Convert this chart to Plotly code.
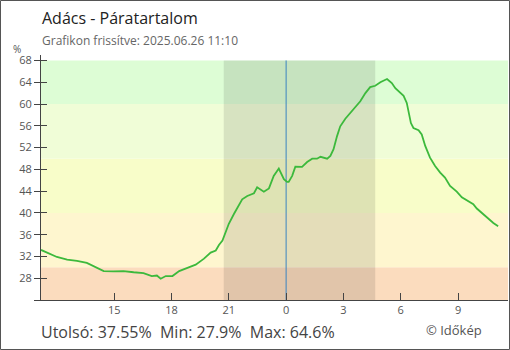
import plotly.graph_objects as go

# Relative humidity readings (time, %)
times = [
    "2025-06-25 11:10", "2025-06-25 11:29", "2025-06-25 12:00", "2025-06-25 12:32",
    "2025-06-25 13:03", "2025-06-25 13:34", "2025-06-25 13:55", "2025-06-25 14:11",
    "2025-06-25 14:27", "2025-06-25 14:58", "2025-06-25 15:29", "2025-06-25 16:01",
    "2025-06-25 16:32", "2025-06-25 16:58", "2025-06-25 17:14", "2025-06-25 17:26",
    "2025-06-25 17:42", "2025-06-25 18:03", "2025-06-25 18:24", "2025-06-25 18:50",
    "2025-06-25 19:16", "2025-06-25 19:42", "2025-06-25 20:03", "2025-06-25 20:19",
    "2025-06-25 20:29", "2025-06-25 20:40", "2025-06-25 20:50", "2025-06-25 21:00",
    "2025-06-25 21:16", "2025-06-25 21:32", "2025-06-25 21:42", "2025-06-25 21:58",
    "2025-06-25 22:19", "2025-06-25 22:29", "2025-06-25 22:50", "2025-06-25 23:06",
    "2025-06-25 23:21", "2025-06-25 23:37", "2025-06-25 23:53", "2025-06-26 00:03",
    "2025-06-26 00:08", "2025-06-26 00:19", "2025-06-26 00:29", "2025-06-26 00:50",
    "2025-06-26 01:06", "2025-06-26 01:22", "2025-06-26 01:37", "2025-06-26 01:48",
    "2025-06-26 02:09", "2025-06-26 02:19", "2025-06-26 02:29", "2025-06-26 02:40",
    "2025-06-26 02:50", "2025-06-26 03:06", "2025-06-26 03:22", "2025-06-26 03:37",
    "2025-06-26 03:53", "2025-06-26 04:09", "2025-06-26 04:24", "2025-06-26 04:40",
    "2025-06-26 04:56", "2025-06-26 05:17", "2025-06-26 05:32", "2025-06-26 05:43",
    "2025-06-26 05:53", "2025-06-26 06:09", "2025-06-26 06:19", "2025-06-26 06:24",
    "2025-06-26 06:32", "2025-06-26 06:40", "2025-06-26 06:56", "2025-06-26 07:06",
    "2025-06-26 07:17", "2025-06-26 07:32", "2025-06-26 07:48", "2025-06-26 08:04",
    "2025-06-26 08:19", "2025-06-26 08:35", "2025-06-26 08:56", "2025-06-26 09:12",
    "2025-06-26 09:32", "2025-06-26 09:48", "2025-06-26 09:59", "2025-06-26 10:14",
    "2025-06-26 10:35", "2025-06-26 10:51", "2025-06-26 11:06",
]
humidity = [
    33.2, 32.7, 31.9, 31.4,
    31.2, 30.8, 30.25, 29.75,
    29.3, 29.25, 29.3, 29.1,
    28.95, 28.4, 28.5, 27.9,
    28.4, 28.4, 29.3, 29.9,
    30.5, 31.6, 32.7, 33.1,
    34.1, 34.9, 36.45, 38.0,
    39.8, 41.6, 42.5, 43.1,
    43.6, 44.7, 43.9, 44.5,
    46.8, 48.15, 46.2, 45.7,
    45.7, 46.8, 48.5, 48.45,
    49.35, 49.95, 49.95, 50.3,
    49.95, 50.45, 51.7, 54.1,
    55.9, 57.3, 58.4, 59.6,
    60.5, 62.0, 63.1, 63.35,
    64.0, 64.6, 63.85, 62.9,
    62.3, 61.5, 60.2, 58.65,
    56.5, 55.6, 55.2, 54.4,
    52.3, 50.15, 48.6, 47.4,
    46.5, 44.95, 43.9, 42.85,
    42.1, 41.6, 40.8, 40.0,
    38.9, 38.15, 37.55,
]

# Humidity zones (lower, upper) and their fills
zone_edges = [24, 30, 40, 50, 60, 68]
zone_colors = ["#fbdcbe", "#fef6cf", "#f8fdc9", "#f0fdd7", "#ddfdd5"]

# Night interval and midnight marker
night_start, night_end = "2025-06-25 20:44", "2025-06-26 04:40"
midnight = "2025-06-26 00:00"

x_range = ["2025-06-25 11:10", "2025-06-26 11:37"]
x_ticks = ["2025-06-25 15:00", "2025-06-25 18:00", "2025-06-25 21:00",
           "2025-06-26 00:00", "2025-06-26 03:00", "2025-06-26 06:00",
           "2025-06-26 09:00"]
x_labels = ["15", "18", "21", "0", "3", "6", "9"]
y_range = [24, 69]
y_ticks = [24, 28, 32, 36, 40, 44, 48, 52, 56, 60, 64, 68]
y_labels = ["" if v == 24 else str(v) for v in y_ticks]

title = "Adács - Páratartalom"
subtitle = "Grafikon frissítve: 2025.06.26 11:10"
credit = "© Időkép"

W, H = 510, 350
ML, MR, MT, MB = 41, 2, 55, 50
PW, PH = W - ML - MR, H - MT - MB


def px(x, y):
    """Figure pixel position -> paper coordinates."""
    return (x - ML) / PW, (H - MB - y) / PH


font = "Open Sans, Noto Sans, DejaVu Sans, sans-serif"
axis_col = "#444444"

fig = go.Figure()
fig.add_trace(go.Scatter(
    x=times, y=humidity, mode="lines",
    line=dict(color="#3cb93c", width=1.8),
    hoverinfo="skip", showlegend=False,
))
# Overlay axis that only supplies the inward half of the y ticks
fig.add_trace(go.Scatter(x=[times[0]], y=[humidity[0]], yaxis="y2",
                         mode="markers", marker=dict(opacity=0),
                         hoverinfo="skip", showlegend=False))

shapes = []
for lo, hi, col in zip(zone_edges[:-1], zone_edges[1:], zone_colors):
    shapes.append(dict(type="rect", xref="paper", yref="y", x0=0, x1=1,
                       y0=lo, y1=hi, fillcolor=col, line_width=0, layer="below"))
shapes.append(dict(type="rect", xref="x", yref="y", x0=night_start, x1=night_end,
                   y0=zone_edges[0], y1=zone_edges[-1],
                   fillcolor="rgba(0,0,0,0.1)", line_width=0, layer="below"))
shapes.append(dict(type="line", xref="x", yref="y", x0=midnight, x1=midnight,
                   y0=zone_edges[0], y1=zone_edges[-1],
                   line=dict(color="#3a84c0", width=1), layer="below"))
# Outer frame around the whole figure
fx0, fy0 = px(0.5, H - 0.5)
fx1, fy1 = px(W - 0.5, 0.5)
shapes.append(dict(type="rect", xref="paper", yref="paper", x0=fx0, x1=fx1,
                   y0=fy0, y1=fy1, line=dict(color="#555555", width=1),
                   fillcolor="rgba(0,0,0,0)", layer="above"))

stats = f"Utolsó: {humidity[-1]:g}%  Min: {min(humidity):g}%  Max: {max(humidity):g}%"

annotations = []
for text, (x, y), size, col, anchor in [
    (title, (40, 18), 16, "#222222", "left"),
    (subtitle, (40, 41), 12, "#666666", "left"),
    ("%", (17, 49), 10, "#555555", "center"),
    (stats, (39, 332), 16, "#444444", "left"),
    (credit, (424, 330), 13, "#555555", "left"),
]:
    ax, ay = px(x, y)
    annotations.append(dict(text=text, x=ax, y=ay, xref="paper", yref="paper",
                            xanchor=anchor, yanchor="middle", showarrow=False,
                            font=dict(size=size, color=col, family=font)))

fig.update_layout(
    width=W, height=H,
    margin=dict(l=ML, r=MR, t=MT, b=MB, pad=0),
    paper_bgcolor="white", plot_bgcolor="white",
    font=dict(family=font, size=11, color="#555555"),
    shapes=shapes, annotations=annotations,
    xaxis=dict(
        type="date", range=x_range, showgrid=False, zeroline=False,
        tickmode="array", tickvals=x_ticks, ticktext=x_labels,
        ticks="inside", ticklen=7, tickcolor=axis_col, tickwidth=1,
        showline=True, linecolor=axis_col, linewidth=1,
        tickfont=dict(size=11, color="#555555"),
    ),
    yaxis=dict(
        range=y_range, tickmode="array", tickvals=y_ticks, ticktext=y_labels,
        showgrid=False, zeroline=False,
        ticks="outside", ticklen=6, tickcolor=axis_col, tickwidth=1,
        showline=True, linecolor=axis_col, linewidth=1,
        tickfont=dict(size=11, color="#555555"),
    ),
    yaxis2=dict(
        overlaying="y", matches="y", side="left", range=y_range,
        tickmode="array", tickvals=y_ticks, showticklabels=False,
        showgrid=False, zeroline=False, showline=False,
        ticks="inside", ticklen=6, tickcolor=axis_col, tickwidth=1,
    ),
)

fig.write_html("out.html")
